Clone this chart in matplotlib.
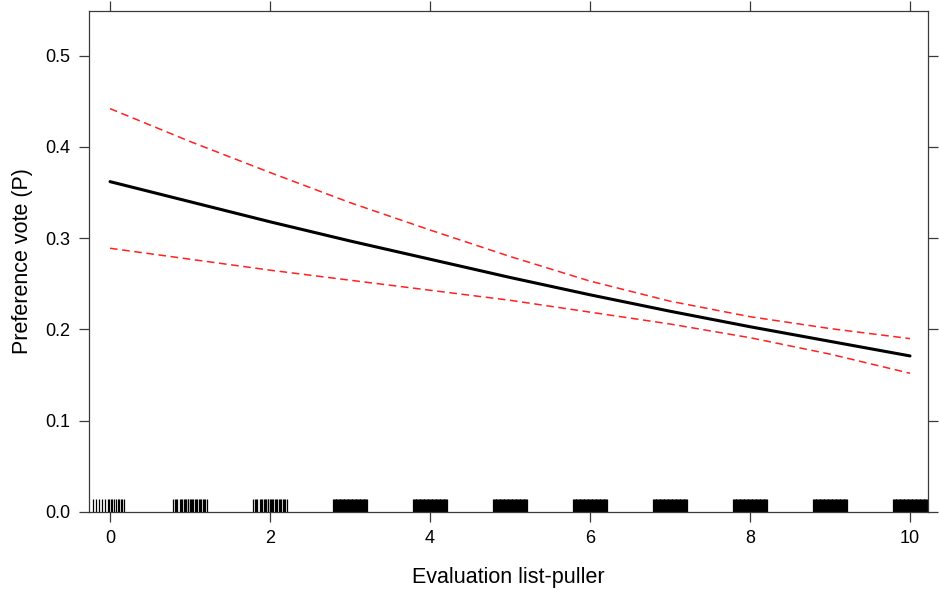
import numpy as np
import matplotlib
matplotlib.use("Agg")
import matplotlib.pyplot as plt

plt.rcParams['font.family'] = ['Liberation Sans', 'DejaVu Sans']

# values
eval_x = [0, 1, 2, 3, 4, 5, 6, 7, 8, 9, 10]
fit = [0.362, 0.340, 0.318, 0.297, 0.277, 0.257, 0.238, 0.220, 0.203, 0.187, 0.171]
upper = [0.442, 0.406, 0.372, 0.339, 0.309, 0.280, 0.253, 0.231, 0.214, 0.201, 0.190]
lower = [0.289, 0.277, 0.265, 0.254, 0.243, 0.232, 0.219, 0.206, 0.191, 0.173, 0.152]

# rug: jittered observed evaluations, offsets around each integer score
rug_centers = [0, 1, 2, 3, 4, 5, 6, 7, 8, 9, 10]
offsets_sparse = [-0.21, -0.18, -0.14, -0.10, -0.06, -0.03, -0.01, 0.01, 0.03, 0.05,
                  0.07, 0.10, 0.11, 0.14, 0.15, 0.18]
offsets_mid = [-0.21, -0.19, -0.17, -0.16, -0.13, -0.11, -0.10, -0.08, -0.06, -0.05,
               -0.03, -0.02, 0.0, 0.01, 0.03, 0.04, 0.06, 0.07, 0.09, 0.11, 0.12,
               0.14, 0.16, 0.17, 0.19, 0.21]
offsets_dense = [-0.21, -0.20, -0.19, -0.18, -0.17, -0.16, -0.15, -0.14, -0.13, -0.12,
                 -0.11, -0.10, -0.09, -0.08, -0.07, -0.06, -0.05, -0.04, -0.03, -0.02,
                 -0.01, 0.0, 0.01, 0.02, 0.03, 0.04, 0.05, 0.06, 0.07, 0.08, 0.09,
                 0.10, 0.11, 0.12, 0.13, 0.14, 0.15, 0.16, 0.17, 0.18, 0.19, 0.20, 0.21]
rug_density = ['sparse', 'mid', 'mid', 'dense', 'dense', 'dense', 'dense', 'dense',
               'dense', 'dense', 'dense']

x_ticks = [0, 2, 4, 6, 8, 10]
y_ticks = [0.0, 0.1, 0.2, 0.3, 0.4, 0.5]

fig = plt.figure(figsize=(9.39, 5.93), dpi=100)
ax = fig.add_axes([0.0948, 0.1366, 0.8935, 0.8449])

frame_col = '#3a3a3a'
for s in ax.spines.values():
    s.set_color(frame_col)
    s.set_linewidth(0.9)

ax.plot(eval_x, upper, color='#ff2020', lw=1.1, ls=(0, (5, 3)))
ax.plot(eval_x, lower, color='#ff2020', lw=1.1, ls=(0, (5, 3)))
ax.plot(eval_x, fit, color='black', lw=2.2, solid_capstyle='round')

offs = {'sparse': offsets_sparse, 'mid': offsets_mid, 'dense': offsets_dense}
rug = []
for c, d in zip(rug_centers, rug_density):
    rug.extend([c + o for o in offs[d]])
ax.vlines(rug, 0, 0.0145, color='black', lw=0.9)

ax.set_xlim(-0.2625, 10.225)
ax.set_ylim(0, 0.549)
ax.set_xticks(x_ticks)
ax.set_yticks(y_ticks)
ax.set_yticklabels([f"{v:.1f}" for v in y_ticks])
ax.tick_params(direction='out', length=7.2, width=0.9, color=frame_col,
               labelsize=13, pad=6, top=True, right=True,
               labeltop=False, labelright=False)

ax.set_xlabel('Evaluation list-puller', fontsize=15.5, labelpad=14)
ax.set_ylabel('Preference vote (P)', fontsize=15.5, labelpad=9)

fig.savefig('out.png', dpi=100)
